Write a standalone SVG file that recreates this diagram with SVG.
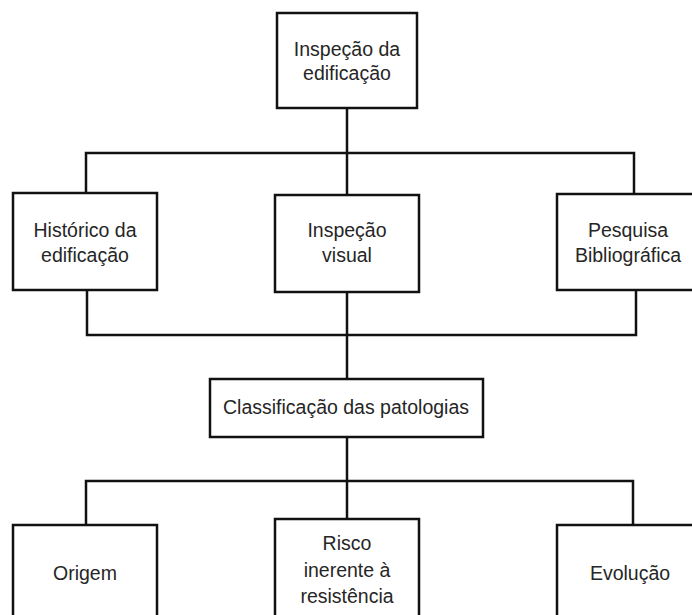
<svg xmlns="http://www.w3.org/2000/svg" width="692" height="615" viewBox="0 0 692 615">
<style>
.box{fill:#fff;stroke:#111;stroke-width:2.5}
.ln{fill:none;stroke:#111;stroke-width:2.5}
text{font-family:"Liberation Sans",Arial,sans-serif;font-size:19.5px;fill:#262626;text-anchor:middle}
</style>
<rect width="692" height="615" fill="#fff"/>
<g id="connectors">
<path class="ln" d="M347,108 V194"/>
<path class="ln" d="M86,194 V153 H634 V194"/>
<path class="ln" d="M87,290 V335 H636 V290"/>
<path class="ln" d="M347,292 V379"/>
<path class="ln" d="M347,437 V519"/>
<path class="ln" d="M86,525 V481 H633 V525"/>
</g>
<g id="n_inspecao_edificacao">
<rect class="box" x="277" y="13" width="140" height="95"/>
<text x="347" y="56">Inspeção da</text>
<text x="347" y="80">edificação</text>
</g>
<g id="n_historico">
<rect class="box" x="13" y="193" width="144" height="97"/>
<text x="85" y="237">Histórico da</text>
<text x="85" y="262">edificação</text>
</g>
<g id="n_inspecao_visual">
<rect class="box" x="275" y="195" width="144" height="97"/>
<text x="347" y="237">Inspeção</text>
<text x="347" y="262">visual</text>
</g>
<g id="n_pesquisa">
<rect class="box" x="557" y="194" width="144" height="96"/>
<text x="628" y="237">Pesquisa</text>
<text x="628" y="262">Bibliográfica</text>
</g>
<g id="n_classificacao">
<rect class="box" x="210" y="379" width="273" height="58"/>
<text x="346" y="414">Classificação das patologias</text>
</g>
<g id="n_origem">
<rect class="box" x="13" y="525" width="144" height="110"/>
<text x="85" y="580">Origem</text>
</g>
<g id="n_risco">
<rect class="box" x="275" y="519" width="144" height="116"/>
<text x="347" y="550">Risco</text>
<text x="347" y="577">inerente à</text>
<text x="347" y="603">resistência</text>
</g>
<g id="n_evolucao">
<rect class="box" x="557" y="525" width="144" height="110"/>
<text x="630" y="580">Evolução</text>
</g>
</svg>
